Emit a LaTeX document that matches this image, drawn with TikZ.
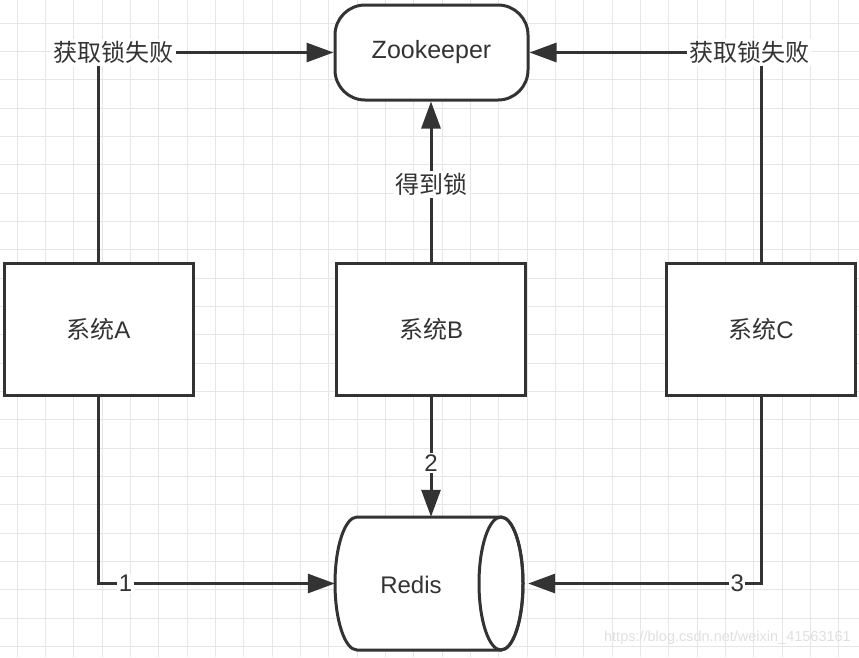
\documentclass[tikz,border=0pt]{standalone}
\usepackage{fontspec}
\setmainfont{Liberation Sans}
\newfontfamily\cjk{Noto Sans CJK SC}
\usetikzlibrary{arrows.meta}
\definecolor{ln}{HTML}{333333}
\definecolor{gridc}{HTML}{E6E6E6}
\definecolor{wm}{HTML}{E0E0E0}
\begin{document}
\begin{tikzpicture}[x=1pt,y=-1pt,
  box/.style={draw=ln, line width=3pt, fill=white, minimum width=189pt, minimum height=132pt, inner sep=0pt, font=\fontsize{24}{28}\selectfont, text=ln},
  conn/.style={draw=ln, line width=3pt, -{Triangle[length=27pt,width=19pt]}},
  lbl/.style={fill=white, inner sep=2.5pt, font=\fontsize{24}{28}\selectfont, text=ln},
  gridline/.style={draw=gridc, line width=1pt}
]
\useasboundingbox (0,0) rectangle (859,657);
\fill[white] (0,0) rectangle (859,657);
\foreach \i in {0,...,29} \draw[gridline] ({17.3+28.33*\i},0) -- ({17.3+28.33*\i},657);
\foreach \j in {0,...,22} \draw[gridline] (0,{23.3+28.33*\j}) -- (859,{23.3+28.33*\j});

% nodes
\node[draw=ln, line width=3pt, fill=white, rounded corners=30pt, minimum width=193pt, minimum height=95pt, inner sep=0pt, font=\fontsize{25}{28}\selectfont, text=ln] (zk) at (431.5,52.5) {Zookeeper};
\node[box] (A) at (98.5,329) {{\cjk 系统}A};
\node[box] (B) at (431,329) {{\cjk 系统}B};
\node[box] (C) at (761,329) {{\cjk 系统}C};

% Redis cylinder
\draw[ln, line width=3pt, fill=white] (357,517) -- (501,517)
  arc[start angle=270, end angle=450, x radius=22, y radius=66.5]
  -- (357,650)
  arc[start angle=90, end angle=270, x radius=22, y radius=66.5] -- cycle;
\draw[ln, line width=3pt] (501,583.5) ellipse [x radius=22, y radius=66.5];
\node[minimum width=188pt, minimum height=133pt, inner sep=0pt] (redis) at (429,583.5) {};
\node[font=\fontsize{24}{28}\selectfont, text=ln] (redislbl) at (411,585) {Redis};

% connectors
\draw[conn] (A.north) |- node[lbl, pos=0.532] {\cjk 获取锁失败} (zk.west);
\draw[conn] (C.north) |- node[lbl, pos=0.524] {\cjk 获取锁失败} (zk.east);
\draw[conn] (B.north) -- node[lbl, pos=0.48] {\cjk 得到锁} (B.north |- zk.south);
\draw[conn] (B.south) -- node[lbl, pos=0.55, inner sep=1.5pt] {2} (B.south |- redis.north);
\draw[conn] (A.south) |- node[lbl, pos=0.557, inner sep=1.5pt] {1} (redis.west);
\draw[conn, shorten >=5pt] (C.south) |- node[lbl, pos=0.55, inner sep=1.5pt] {3} (redis.east);

% watermark
\node[font=\fontsize{14.5}{16}\selectfont, text=wm, anchor=east, inner sep=0pt] (wm) at (851,638) {https://blog.csdn.net/weixin\_41563161};
\end{tikzpicture}
\end{document}
